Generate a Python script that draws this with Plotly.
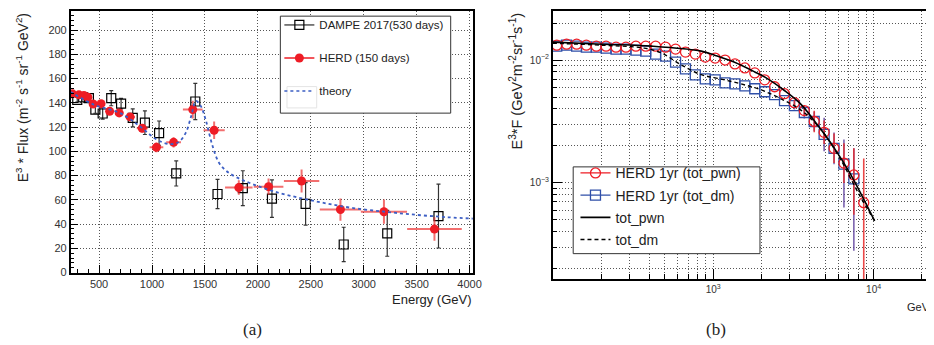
import plotly.graph_objects as go

W, H = 934, 345

# ---------------- Panel (a) data ----------------
herd_E = [248, 310, 357, 394, 444, 519, 600, 690, 793, 908, 1042, 1204, 1385, 1587, 1820, 2101, 2413, 2780, 3191, 3668]
herd_flux = [147.4, 146.6, 146.0, 144.6, 139.0, 139.3, 133.0, 131.7, 128.4, 119.0, 103.3, 107.4, 134.4, 117.4, 70.1, 70.9, 75.5, 52.0, 50.2, 35.9]
herd_xerr = [15, 20, 22, 25, 28, 32, 36, 40, 46, 52, 65, 70, 93, 100, 130, 140, 167, 195, 218, 258]
herd_yerr = [1.5, 1.5, 1.5, 1.5, 2, 2, 2, 2.5, 3, 3.5, 4, 4.3, 7.3, 7.3, 6, 6.7, 9.5, 9.2, 10, 9.7]

dampe_E = [294, 350, 404, 465, 534, 615, 708, 818, 933, 1067, 1229, 1409, 1619, 1858, 2133, 2451, 2811, 3222, 3706]
dampe_flux = [142.5, 144.6, 143.8, 134.4, 131.2, 143.8, 139.3, 127.6, 123.6, 115.0, 81.8, 141.1, 64.8, 69.6, 61.0, 56.7, 23.2, 32.4, 46.6]
dampe_yerr = [2, 2, 2.5, 3, 4.7, 6.2, 4.3, 7.4, 9.7, 10, 10.4, 15, 12.1, 14.4, 15.5, 17.5, 14.2, 18.9, 26.3]

theory_E = [230, 250, 450, 700, 880, 1040, 1160, 1250, 1320, 1370, 1415, 1460, 1510, 1570, 1630, 1700, 1800, 1950, 2150, 2400, 2650, 2900, 3200, 3500, 3800, 4050]
theory_flux = [149, 148, 138.5, 131.5, 121, 110, 106, 107.5, 115.5, 129, 141.5, 137.5, 125, 105, 91, 84, 78.5, 73, 67, 61.5, 57, 53.2, 50.2, 47.6, 45.6, 44.5]

# ---------------- Panel (b) data ----------------
b_E = [106, 122, 141, 162, 187, 215, 248, 286, 330, 380, 438, 505, 583, 672, 774, 893,
       1029, 1186, 1367, 1576, 1817, 2095, 2415, 2783, 3209, 3699, 4264, 4915, 5666, 6531, 7529, 8679]
pwn_F = [0.01321, 0.01346, 0.01346, 0.01321, 0.01297, 0.01297, 0.01273, 0.01273, 0.01297, 0.01297, 0.01297,
         0.01273, 0.01227, 0.01160, 0.01118, 0.01057, 0.01038, 0.01000, 0.00929, 0.00862, 0.00786, 0.00690,
         0.00606, 0.00532, 0.00450, 0.00388, 0.00316, 0.00258, 0.00191, 0.00145, 0.00116, 0.00069]
pwn_eplus = [0] * 24 + [0.00026, 0.00037, 0.00071, 0.00064, 0.00061, 0.00065, 0.00075, 0.00089]
pwn_eminus = [0] * 24 + [0.00024, 0.00034, 0.00058, 0.00051, 0.00046, 0.00045, 0.00061, 0.00068]

dm_F = [0.01297, 0.01321, 0.01297, 0.01273, 0.01273, 0.01249, 0.01227, 0.01227, 0.01204, 0.01182, 0.01118,
        0.01077, 0.00963, 0.00846, 0.00757, 0.00703, 0.00690, 0.00652, 0.00640, 0.00617, 0.00584, 0.00552,
        0.00522, 0.00467, 0.00426, 0.00374, 0.00316, 0.00248, 0.00191, 0.00142, 0.00108]
dm_eplus = [0] * 24 + [0.00033, 0.00044, 0.00064, 0.00091, 0.00066, 0.00083, 0.00083]
dm_eminus = [0] * 24 + [0.00030, 0.00039, 0.00053, 0.00067, 0.00049, 0.00079, 0.00080]

totpwn_E = [100, 204, 414, 843, 1030, 1348, 1817, 2188, 2742, 3491, 4446, 5580, 7114, 10140]
totpwn_F = [0.0140, 0.01346, 0.01297, 0.01182, 0.0109, 0.00963, 0.0080, 0.00703, 0.00573, 0.00442, 0.00299, 0.00199, 0.00120, 0.00049]
totdm_E = [100, 204, 372, 477, 635, 843, 1120, 1489, 1979, 2630, 3491, 4635, 6160, 8180, 10140]
totdm_F = [0.0137, 0.0132, 0.0125, 0.0114, 0.0091, 0.0076, 0.0070, 0.0064, 0.00573, 0.00485, 0.00395, 0.00278, 0.00159, 0.00079, 0.00049]

b_major_x = [1000, 10000]
b_major_x_text = ["10<sup>3</sup>", "10<sup>4</sup>"]
b_major_y = [0.001, 0.01]
b_major_y_text = ["10<sup>\u22123</sup>", "10<sup>\u22122</sup>"]
b_minor_x = [200, 300, 400, 500, 600, 700, 800, 900, 2000, 3000, 4000, 5000, 6000, 7000, 8000, 9000, 20000]
b_minor_y = [2e-4, 3e-4, 4e-4, 5e-4, 6e-4, 7e-4, 8e-4, 9e-4, 2e-3, 3e-3, 4e-3, 5e-3, 6e-3, 7e-3, 8e-3, 9e-3, 2e-2]


def px(x):
    return x / W


def py(y):
    return 1 - y / H


RED = "#ee1c25"
BLUE = "#2f4fa8"
FONT = "Liberation Sans, Arial, sans-serif"
GRID = "#555555"
GDASH = "1px,2px"

fig = go.Figure()

# ---- panel (a) traces ----
fig.add_trace(go.Scatter(
    x=dampe_E, y=dampe_flux, mode="markers", xaxis="x", yaxis="y", showlegend=False,
    marker=dict(symbol="square-open", size=9, color="black", line=dict(width=1.2)),
    error_y=dict(type="data", array=dampe_yerr, color="#333333", thickness=1.2, width=2),
))
fig.add_trace(go.Scatter(
    x=herd_E, y=herd_flux, mode="markers", xaxis="x", yaxis="y", showlegend=False,
    marker=dict(symbol="circle", size=9, color=RED),
    error_x=dict(type="data", array=herd_xerr, color="rgba(236,50,50,0.7)", thickness=2, width=0),
    error_y=dict(type="data", array=herd_yerr, color="rgba(236,50,50,0.7)", thickness=2, width=0),
))
fig.add_trace(go.Scatter(
    x=theory_E, y=theory_flux, mode="lines", xaxis="x", yaxis="y", showlegend=False,
    line=dict(color="#3d5fc4", width=1.8, dash="dot", shape="spline"),
))
# legend entries (a)
fig.add_trace(go.Scatter(x=[None], y=[None], xaxis="x", yaxis="y", mode="lines+markers",
                         name="DAMPE 2017(530 days)", legend="legend", legendgroup="a1",
                         line=dict(color="black", width=1),
                         marker=dict(symbol="square-open", size=9, color="black", line=dict(width=1.2))))
fig.add_trace(go.Scatter(x=[None], y=[None], xaxis="x", yaxis="y", mode="lines+markers",
                         name="HERD (150 days)", legend="legend", legendgroup="a2",
                         line=dict(color=RED, width=1.5),
                         marker=dict(symbol="circle", size=9, color=RED)))
fig.add_trace(go.Scatter(x=[None], y=[None], xaxis="x", yaxis="y", mode="lines",
                         name="theory", legend="legend", legendgroup="a3",
                         line=dict(color="#3d5fc4", width=1.5, dash="dot")))

# ---- panel (b) traces ----
fig.add_trace(go.Scatter(
    x=b_E[:len(dm_F)], y=dm_F, mode="markers", xaxis="x2", yaxis="y2", showlegend=False,
    marker=dict(symbol="square-open", size=10, color=BLUE, line=dict(width=1.3)),
    error_y=dict(type="data", symmetric=False, array=dm_eplus, arrayminus=dm_eminus,
                 color="rgba(100,70,160,0.85)", thickness=1.6, width=0),
))
fig.add_trace(go.Scatter(
    x=b_E, y=pwn_F, mode="markers", xaxis="x2", yaxis="y2", showlegend=False,
    marker=dict(symbol="circle-open", size=10, color=RED, line=dict(width=1.3)),
    error_y=dict(type="data", symmetric=False, array=pwn_eplus, arrayminus=pwn_eminus,
                 color="rgba(230,40,40,0.85)", thickness=1.6, width=0),
))
fig.add_trace(go.Scatter(
    x=totdm_E, y=totdm_F, mode="lines", xaxis="x2", yaxis="y2", showlegend=False,
    line=dict(color="black", width=1.4, dash="4px,3px", shape="spline"),
))
fig.add_trace(go.Scatter(
    x=totpwn_E, y=totpwn_F, mode="lines", xaxis="x2", yaxis="y2", showlegend=False,
    line=dict(color="black", width=1.6, shape="spline"),
))
# legend entries (b)
fig.add_trace(go.Scatter(x=[None], y=[None], xaxis="x2", yaxis="y2", mode="lines+markers",
                         name="HERD 1yr (tot_pwn)", legend="legend2", legendgroup="b1",
                         line=dict(color=RED, width=1.2),
                         marker=dict(symbol="circle-open", size=10, color=RED, line=dict(width=1.3))))
fig.add_trace(go.Scatter(x=[None], y=[None], xaxis="x2", yaxis="y2", mode="lines+markers",
                         name="HERD 1yr (tot_dm)", legend="legend2", legendgroup="b2",
                         line=dict(color=BLUE, width=1.2),
                         marker=dict(symbol="square-open", size=10, color=BLUE, line=dict(width=1.3))))
fig.add_trace(go.Scatter(x=[None], y=[None], xaxis="x2", yaxis="y2", mode="lines",
                         name="tot_pwn", legend="legend2", legendgroup="b3",
                         line=dict(color="black", width=1.6)))
fig.add_trace(go.Scatter(x=[None], y=[None], xaxis="x2", yaxis="y2", mode="lines",
                         name="tot_dm", legend="legend2", legendgroup="b4",
                         line=dict(color="black", width=1.4, dash="4px,3px")))

axis_common = dict(showline=True, linecolor="black", linewidth=1.5, zeroline=False,
                   ticks="inside", tickcolor="black", tickwidth=1,
                   tickfont=dict(family=FONT, size=11, color="#333333"),
                   showgrid=True, gridcolor=GRID, griddash=GDASH, gridwidth=1)

fig.update_layout(
    width=W, height=H,
    margin=dict(l=0, r=0, t=0, b=0),
    paper_bgcolor="white", plot_bgcolor="white",
    font=dict(family=FONT, color="#222222"),
    xaxis=dict(axis_common, domain=[px(63.3), px(469.3)], range=[232, 4030], anchor="y",
               tickmode="linear", tick0=0, dtick=500, ticklen=8, mirror=True,
               minor=dict(tickmode="linear", tick0=0, dtick=100, ticklen=4, ticks="inside",
                          tickcolor="black", showgrid=False)),
    yaxis=dict(axis_common, domain=[py(269.3), py(2.7)], range=[0, 216], anchor="x",
               tickmode="linear", tick0=0, dtick=20, ticklen=8, mirror=True,
               minor=dict(tickmode="linear", tick0=0, dtick=4, ticklen=4, ticks="inside",
                          tickcolor="black", showgrid=False)),
    xaxis2=dict(axis_common, type="log", domain=[px(550), 1.0], range=[2.0, 4.37], anchor="y2",
                tickmode="array", tickvals=b_major_x, ticktext=b_major_x_text, ticklen=10, mirror=True,
                tickfont=dict(family=FONT, size=10, color="#333333"),
                minor=dict(tickmode="array", tickvals=b_minor_x, ticklen=5, ticks="inside",
                           tickcolor="black", showgrid=True, gridcolor=GRID, griddash=GDASH)),
    yaxis2=dict(axis_common, type="log", domain=[py(276), py(2.7)], range=[-3.784, -1.598], anchor="x2",
                tickmode="array", tickvals=b_major_y, ticktext=b_major_y_text, ticklen=10, mirror=False,
                tickfont=dict(family=FONT, size=10, color="#333333"),
                minor=dict(tickmode="array", tickvals=b_minor_y, ticklen=5, ticks="inside",
                           tickcolor="black", showgrid=True, gridcolor=GRID, griddash=GDASH)),
    legend=dict(x=px(274), y=py(2.5), xanchor="left", yanchor="top",
                bgcolor="rgba(0,0,0,0)", borderwidth=0, traceorder="grouped", tracegroupgap=14,
                font=dict(family=FONT, size=11.5, color="#222222")),
    legend2=dict(x=px(573), y=py(152), xanchor="left", yanchor="top",
                 bgcolor="rgba(0,0,0,0)", borderwidth=0, traceorder="grouped", tracegroupgap=1,
                 font=dict(family=FONT, size=14, color="#222222")),
    shapes=[
        dict(type="rect", xref="paper", yref="paper", x0=px(275), x1=px(447), y0=py(107), y1=py(8.3),
             line=dict(color="#333333", width=1), fillcolor="white", layer="above"),
        dict(type="rect", xref="paper", yref="paper", x0=px(281.7), x1=px(311.7), y0=py(101.7), y1=py(80),
             line=dict(color="#e4e4e4", width=1), fillcolor="rgba(0,0,0,0)", layer="above"),
        dict(type="rect", xref="paper", yref="paper", x0=px(570.7), x1=px(759.3), y0=py(250), y1=py(161.7),
             line=dict(color="#333333", width=1), fillcolor="white", layer="above"),
    ],
    annotations=[
        dict(text="E<sup>3</sup> * Flux (m<sup>-2</sup> s<sup>-1</sup> sr<sup>-1</sup> GeV<sup>2</sup>)",
             xref="paper", yref="paper", x=px(15), y=py(3), xanchor="center", yanchor="top",
             textangle=-90, showarrow=False, font=dict(family=FONT, size=14, color="#222222")),
        dict(text="E<sup>3</sup>*F (GeV<sup>2</sup>m<sup>-2</sup>sr<sup>-1</sup>s<sup>-1</sup>)",
             xref="paper", yref="paper", x=px(513), y=py(3), xanchor="center", yanchor="top",
             textangle=-90, showarrow=False, font=dict(family=FONT, size=14.5, color="#222222")),
        dict(text="Energy (GeV)", xref="paper", yref="paper", x=px(470), y=py(297),
             xanchor="right", yanchor="middle", showarrow=False,
             font=dict(family=FONT, size=13, color="#222222")),
        dict(text="GeV", xref="paper", yref="paper", x=px(933), y=py(304),
             xanchor="right", yanchor="middle", showarrow=False,
             font=dict(family=FONT, size=11, color="#222222")),
        dict(text="(a)", xref="paper", yref="paper", x=px(247), y=py(327),
             xanchor="center", yanchor="middle", showarrow=False,
             font=dict(family="Liberation Serif, Times New Roman, serif", size=17, color="#222222")),
        dict(text="(b)", xref="paper", yref="paper", x=px(715), y=py(327),
             xanchor="center", yanchor="middle", showarrow=False,
             font=dict(family="Liberation Serif, Times New Roman, serif", size=17, color="#222222")),
    ],
)

fig.write_html("out.html")
